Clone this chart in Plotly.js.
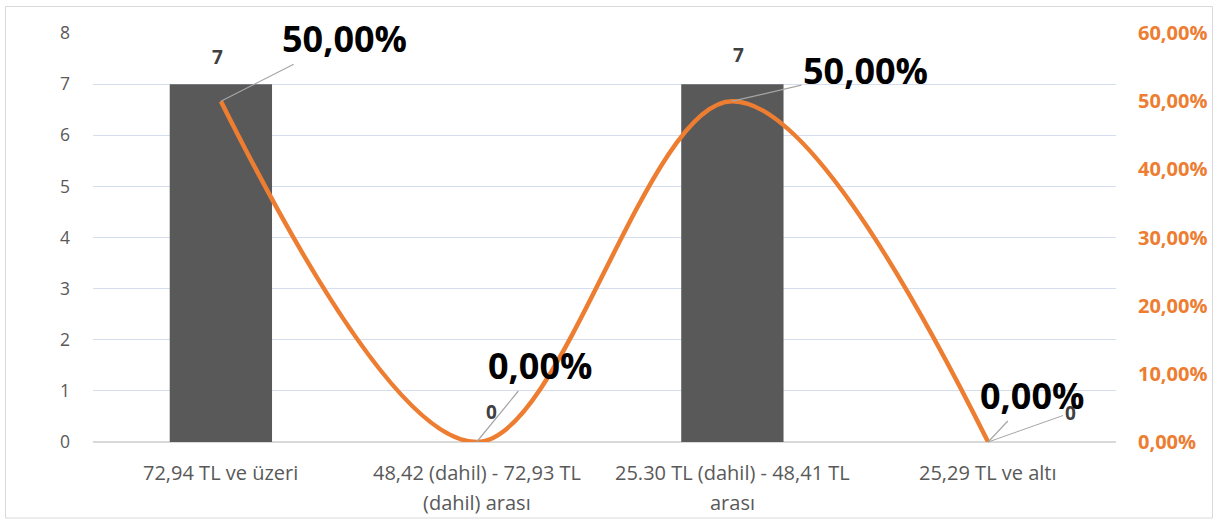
<!DOCTYPE html>
<html>
<head>
<meta charset="utf-8">
<script src="https://cdn.plot.ly/plotly-3.0.1.min.js"></script>
<style>html,body{margin:0;padding:0;background:#fff;}#chart{width:1215px;height:520px;}</style>
</head>
<body>
<div id="chart"></div>
<script>
// Data
var categories = ["72,94 TL ve üzeri", "48,42 (dahil) - 72,93 TL (dahil) arası", "25.30 TL (dahil) - 48,41 TL arası", "25,29 TL ve altı"];
var categoryLines = [["72,94 TL ve üzeri"], ["48,42 (dahil) - 72,93 TL", "(dahil) arası"], ["25.30 TL (dahil) - 48,41 TL", "arası"], ["25,29 TL ve altı"]];
var counts = [7, 0, 7, 0];
var shares = [0.5, 0, 0.5, 0];
var leftTicks = [0, 1, 2, 3, 4, 5, 6, 7, 8];
var rightTicks = [0, 0.1, 0.2, 0.3, 0.4, 0.5, 0.6];

// Layout constants (pixels)
var W = 1215, H = 520, ML = 93, MR = 99, MT = 33, MB = 78;
var PW = W - ML - MR, PH = H - MT - MB;
function py(pix) { return (H - MB - pix) / PH; }
function px(pix) { return (pix - ML) / PW; }

var FONT = "Open Sans, Liberation Sans, Arial, sans-serif";

function pct(v) { return (v * 100).toFixed(2).replace('.', ',') + '%'; }

var traces = [
  {
    type: 'bar', x: categories, y: counts, width: 0.4,
    marker: { color: '#595959' }, hoverinfo: 'none', yaxis: 'y'
  },
  {
    type: 'scatter', mode: 'lines', x: categories, y: shares, yaxis: 'y2',
    line: { color: '#ed7d31', width: 4.5, shape: 'spline', smoothing: 1 },
    hoverinfo: 'none', cliponaxis: false
  }
];

var annotations = [];
// category labels (annotations for Excel-like line spacing)
categoryLines.forEach(function (lines, i) {
  lines.forEach(function (ln, j) {
    annotations.push({
      x: categories[i], xref: 'x', y: py(472 + j * 30), yref: 'paper',
      text: ln, showarrow: false, xanchor: 'center', yanchor: 'middle',
      font: { family: FONT, size: 20, color: '#595959' }
    });
  });
});

// bar value labels
var barOffsets = [[-3, 27, false], [15, 30, false], [6, 29, false], [82, 29, true]];
counts.forEach(function (v, i) {
  var o = barOffsets[i];
  var a = {
    x: categories[i], xref: 'x', y: v, yref: 'y', text: String(v),
    font: { family: FONT, size: 19, color: '#404040', weight: 'bold' }
  };
  if (o[2]) {
    a.showarrow = true; a.arrowhead = 0; a.arrowwidth = 1; a.arrowcolor = '#a6a6a6';
    a.ax = o[0]; a.ay = -o[1]; a.standoff = 0;
  } else {
    a.showarrow = false; a.xshift = o[0]; a.yshift = o[1];
  }
  annotations.push(a);
});

// percentage labels with leader lines
var pctOffsets = [[124, -63], [63, -77], [133, -31], [44, -47]];
shares.forEach(function (v, i) {
  annotations.push({
    x: categories[i], xref: 'x', y: v, yref: 'y2', text: pct(v),
    showarrow: true, arrowhead: 0, arrowwidth: 1.2, arrowcolor: '#a6a6a6',
    ax: pctOffsets[i][0], ay: pctOffsets[i][1], standoff: 0,
    font: { family: FONT, size: 36, color: '#000000', weight: 'bold' }
  });
});

var layout = {
  width: W, height: H,
  margin: { l: ML, r: MR, t: MT, b: MB, pad: 0 },
  paper_bgcolor: '#ffffff', plot_bgcolor: '#ffffff',
  showlegend: false,
  bargap: 0.6,
  xaxis: {
    type: 'category', showticklabels: false, showgrid: false, zeroline: false,
    showline: false, ticks: '', fixedrange: true
  },
  yaxis: {
    range: [0, 8], tickvals: leftTicks, ticktext: leftTicks.map(String),
    showgrid: true, gridcolor: '#d4deef', gridwidth: 1.2,
    zeroline: true, zerolinecolor: '#d9d9d9', zerolinewidth: 1.5,
    showline: false, ticks: '', ticklabelstandoff: 22,
    tickfont: { family: FONT, size: 17.5, color: '#595959' }
  },
  yaxis2: {
    range: [0, 0.6], overlaying: 'y', side: 'right',
    tickvals: rightTicks, ticktext: rightTicks.map(pct),
    showgrid: false, zeroline: false, showline: false, ticks: '',
    ticklabelstandoff: 21,
    tickfont: { family: FONT, size: 20, color: '#ed7d31', weight: 'bold' }
  },
  annotations: annotations,
  shapes: [{
    type: 'rect', xref: 'paper', yref: 'paper',
    x0: px(5.5), x1: px(1212.5), y0: py(518), y1: py(6.5),
    line: { color: '#d9d9d9', width: 1 }, fillcolor: 'rgba(0,0,0,0)', layer: 'below'
  }]
};

Plotly.newPlot('chart', traces, layout, { displayModeBar: false, staticPlot: true });
</script>
</body>
</html>
